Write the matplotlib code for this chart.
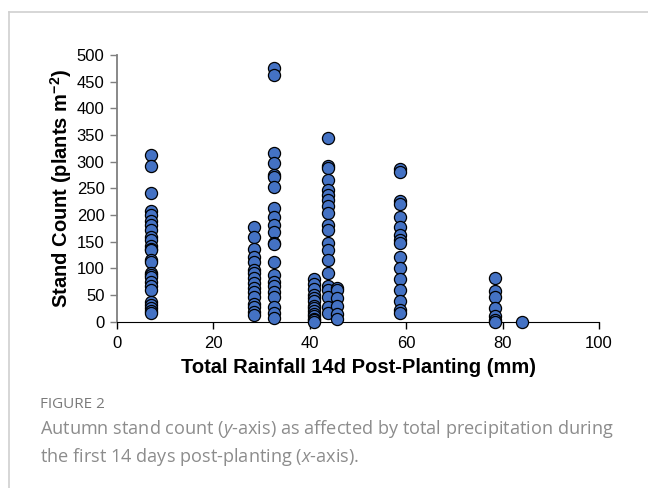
import matplotlib
matplotlib.use('Agg')
import matplotlib.pyplot as plt
from matplotlib.lines import Line2D

plt.rcParams['font.family'] = ['Liberation Sans', 'DejaVu Sans']
plt.rcParams['mathtext.fontset'] = 'custom'
plt.rcParams['mathtext.rm'] = 'Liberation Sans'
plt.rcParams['mathtext.bf'] = 'Liberation Sans:bold'
plt.rcParams['mathtext.it'] = 'Open Sans:italic'

# rainfall (mm) for each site-year group and the stand counts
rain_7 = 7
count_7 = [312, 292, 241, 207, 200, 189, 181, 172, 159, 153, 142, 137, 134, 116, 112,
           91, 88, 84, 75, 66, 59, 36, 31, 25, 20, 17]
rain_28 = 28.4
count_28 = [177, 159, 136, 122, 112, 97, 91, 81, 72, 63, 56, 47, 34, 28, 19, 12]
rain_33 = 32.6
count_33 = [476, 462, 317, 298, 275, 272, 253, 214, 197, 181, 169, 148, 146, 112,
            88, 75, 66, 56, 47, 28, 16, 6]
rain_41 = 40.8
count_41 = [80, 70, 62, 50, 45, 38, 30, 25, 20, 15, 10, 5, 3, 0]
rain_44 = 43.8
count_44 = [344, 291, 288, 266, 247, 238, 228, 216, 203, 181, 172, 147, 134, 116,
            91, 66, 60, 47, 28, 16]
rain_46 = 45.6
count_46 = [63, 60, 45, 29, 14, 5]
rain_59 = 58.7
count_59 = [286, 280, 227, 221, 197, 177, 163, 154, 147, 122, 100, 80, 59, 38, 22, 17]
rain_79 = 78.5
count_79 = [81, 58, 47, 25, 11, 3, 0]
rain_84 = 84
count_84 = [0]

groups = [(rain_7, count_7), (rain_28, count_28), (rain_33, count_33),
          (rain_41, count_41), (rain_44, count_44), (rain_46, count_46),
          (rain_59, count_59), (rain_79, count_79), (rain_84, count_84)]

fig = plt.figure(figsize=(6.48, 4.88), dpi=100)
ax = fig.add_axes([0.1806, 0.3408, 0.7438, 0.5465])

for rain, counts in groups:
    ax.scatter([rain] * len(counts), counts, s=76, color='#4472C4',
               edgecolors='black', linewidths=0.9, zorder=3, clip_on=False)

ax.set_xlim(0, 100)
ax.set_ylim(0, 500)
ax.set_xticks(range(0, 101, 20))
ax.set_yticks(range(0, 501, 50))
ax.spines['top'].set_visible(False)
ax.spines['right'].set_visible(False)
ax.spines['left'].set_color('#7f7f7f')
ax.spines['left'].set_linewidth(1.3)
ax.spines['bottom'].set_color('black')
ax.tick_params(axis='both', labelsize=12, length=5, width=1, direction='out')
ax.tick_params(axis='y', color='#7f7f7f', pad=4)
ax.tick_params(axis='x', pad=5)

ax.set_xlabel('Total Rainfall 14d Post-Planting (mm)', fontsize=14.5,
              fontweight='bold', labelpad=5)
ax.set_ylabel(r'Stand Count (plants m$^{\mathbf{-2}}$)', fontsize=14.5,
              fontweight='bold', labelpad=2)

# frame around the figure panel
fig.add_artist(Line2D([9 / 648, 9 / 648], [0, 1 - 12 / 488],
                      transform=fig.transFigure, color='#d0d0d0', lw=1.2))
fig.add_artist(Line2D([9 / 648, 1], [1 - 12 / 488, 1 - 12 / 488],
                      transform=fig.transFigure, color='#d0d0d0', lw=1.2))

cap_font = ['Open Sans', 'DejaVu Sans']
fig.text(40 / 648, 1 - 404 / 488, 'FIGURE 2', fontsize=11, color='#7a7a7a',
         family=cap_font, va='center')
fig.text(40 / 648, 1 - 429 / 488,
         'Autumn stand count ($y$-axis) as affected by total precipitation during',
         fontsize=13.1, color='#8c8c8c', family=cap_font, va='center')
fig.text(40 / 648, 1 - 457 / 488,
         'the first 14 days post-planting ($x$-axis).',
         fontsize=13.1, color='#8c8c8c', family=cap_font, va='center')

fig.savefig('out.png', dpi=100)
